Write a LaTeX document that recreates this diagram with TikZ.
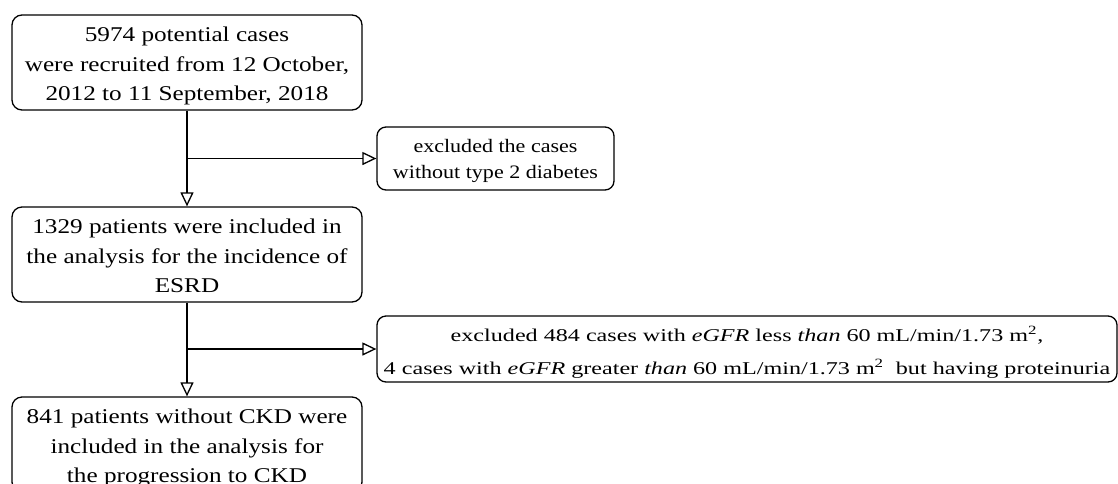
\documentclass[tikz,border=0pt]{standalone}
\usepackage{fontspec}
\usepackage{graphicx}
\setmainfont{Liberation Serif}
\usetikzlibrary{arrows.meta}
% #1 horizontal stretch, #2 vertical offset, #3 lines
\newcommand{\stretchtext}[3]{\raisebox{#2}[\height][\depth]{\scalebox{#1}[1]{\begin{tabular}{@{}c@{}}#3\end{tabular}}}}
\begin{document}
\begin{tikzpicture}[x=1pt,y=-1pt,
  mainbox/.style={draw, rounded corners=10pt, line width=1.3pt, minimum width=350pt, minimum height=95pt, inner sep=0pt, font=\fontsize{21}{29.5}\selectfont},
  exbox/.style={draw, rounded corners=9pt, line width=1.3pt, minimum height=63pt, inner sep=0pt},
  flow/.style={line width=1.3pt, -{Triangle[open, length=14pt, width=13pt, line width=1.3pt]}}]
\useasboundingbox (0,0) rectangle (1118,483);
\node[mainbox] (b1) at (187,62.5) {\stretchtext{1.2}{-3pt}{5974 potential cases\\were recruited from 12 October,\\2012 to 11 September, 2018}};
\node[mainbox] (b2) at (187,254.5) {\stretchtext{1.2}{-3pt}{1329 patients were included in\\the analysis for the incidence of\\ESRD}};
\node[mainbox] (b3) at (187,444.5) {\stretchtext{1.2}{-3pt}{841 patients without CKD were\\included in the analysis for\\the progression to CKD}};
\node[exbox, minimum width=237pt, font=\fontsize{19}{26}\selectfont] (e1) at (495.5,158.5) {\stretchtext{1.16}{-2pt}{excluded the cases\\without type 2 diabetes}};
\node[exbox, minimum width=740pt, font=\fontsize{18}{33}\selectfont] (e2) at (747,349) {\stretchtext{1.34}{-2pt}{excluded 484 cases with \textit{eGFR} less \textit{than} 60 mL/min/1.73 m\textsuperscript{2},\\4 cases with \textit{eGFR} greater \textit{than} 60 mL/min/1.73 m\textsuperscript{2}\ \ but having proteinuria}};
\coordinate (j1) at (b1.south |- e1.west);
\coordinate (j2) at (b2.south |- e2.west);
\draw[flow] (b1.south) -- (b2.north);
\draw[flow] (j1) -- (e1.west);
\draw[flow] (b2.south) -- (b3.north);
\draw[flow] (j2) -- (e2.west);
\end{tikzpicture}
\end{document}
